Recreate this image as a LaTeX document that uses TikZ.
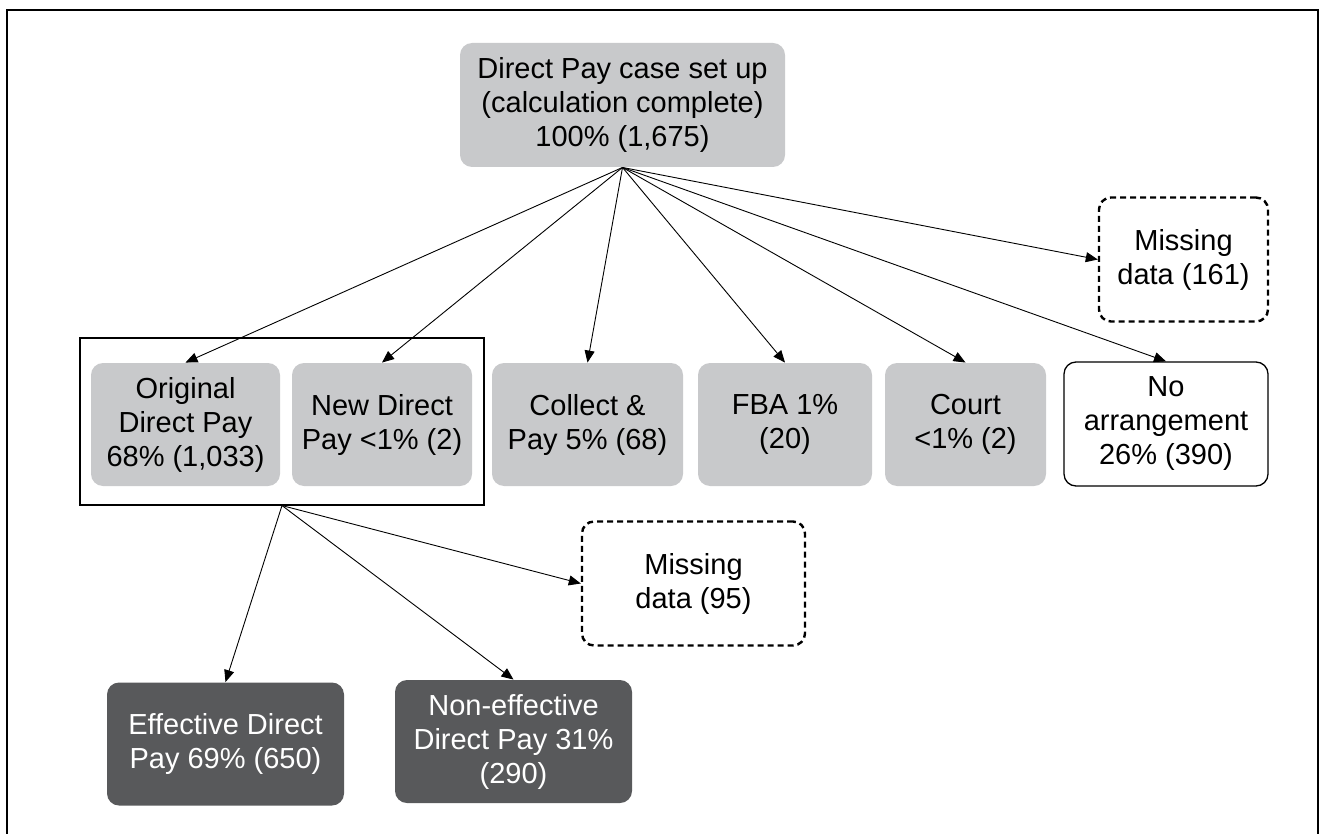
\documentclass[tikz,border=0pt]{standalone}
\usepackage{fontspec}
\setmainfont{Liberation Sans}
\usetikzlibrary{arrows.meta,shapes}
\definecolor{boxgrey}{RGB}{200,201,203}
\definecolor{boxdark}{RGB}{88,89,91}

\begin{document}
\begin{tikzpicture}[x=1pt,y=-1pt,->,>={Triangle[length=12pt,width=10pt]},line width=0.9pt,
    every node/.style={align=center,inner sep=0pt,font=\fontsize{29}{34}\selectfont},
    greybox/.style={shape=rectangle,rounded corners=12pt,fill=boxgrey,minimum height=123pt},
    darkbox/.style={shape=rectangle,rounded corners=12pt,fill=boxdark,text=white,minimum height=123pt},
    plainbox/.style={shape=rectangle,rounded corners=12pt,draw=black,line width=1.3pt,minimum height=124pt},
    missbox/.style={shape=rectangle,rounded corners=12pt,draw=black,line width=2.4pt,dash pattern=on 6pt off 4pt,minimum height=124pt},
    groupbox/.style={shape=rectangle,draw=black,line width=1.1pt,minimum width=404pt,minimum height=167pt}]
                \useasboundingbox (0,0) rectangle (1321,834);
                \draw[-,line width=2.5pt] (7,834) -- (7,10) -- (1318,10) -- (1318,834);
                \node[greybox,minimum width=325pt,minimum height=124pt](top)at(622.5, 105){Direct Pay case set up\\(calculation complete)\\100\% (1,675)};
                \node[groupbox](grp)at(282, 421.5){};
                \node[greybox,minimum width=189pt](orig)at(185.5, 424.5){Original\\Direct Pay\\68\% (1,033)};
                \node[greybox,minimum width=180pt](newdp)at(382, 424.5){New Direct\\Pay <1\% (2)};
                \node[greybox,minimum width=191pt](collect)at(587.5, 424.5){Collect \&\\Pay 5\% (68)};
                \node[greybox,minimum width=174pt](fba)at(785, 424.5){FBA 1\%\\(20)};
                \node[greybox,minimum width=161pt](court)at(965.5, 424.5){Court\\<1\% (2)};
                \node[plainbox,minimum width=204pt](noarr)at(1166, 424){No\\arrangement\\26\% (390)};
                \node[missbox,minimum width=169pt](misstop)at(1183.5, 259.5){Missing\\data (161)};
                \node[missbox,minimum width=223pt](misslow)at(693.5, 583.5){Missing\\data (95)};
                \node[darkbox,minimum width=237pt](eff)at(225.5, 744){Effective Direct\\Pay 69\% (650)};
                \node[darkbox,minimum width=237pt](noneff)at(513.5, 741.5){Non-effective\\Direct Pay 31\%\\(290)};
                \path[](top.south) edge (orig.north)
                (top.south) edge (newdp.north)
                (top.south) edge (collect.north)
                (top.south) edge (fba.north)
                (top.south) edge (court.north)
                (top.south) edge (noarr.north)
                (top.south) edge (misstop.west)
                (grp.south) edge (eff.north)
                (grp.south) edge (noneff.north)
                (grp.south) edge (misslow.west);
            \end{tikzpicture}
\end{document}
